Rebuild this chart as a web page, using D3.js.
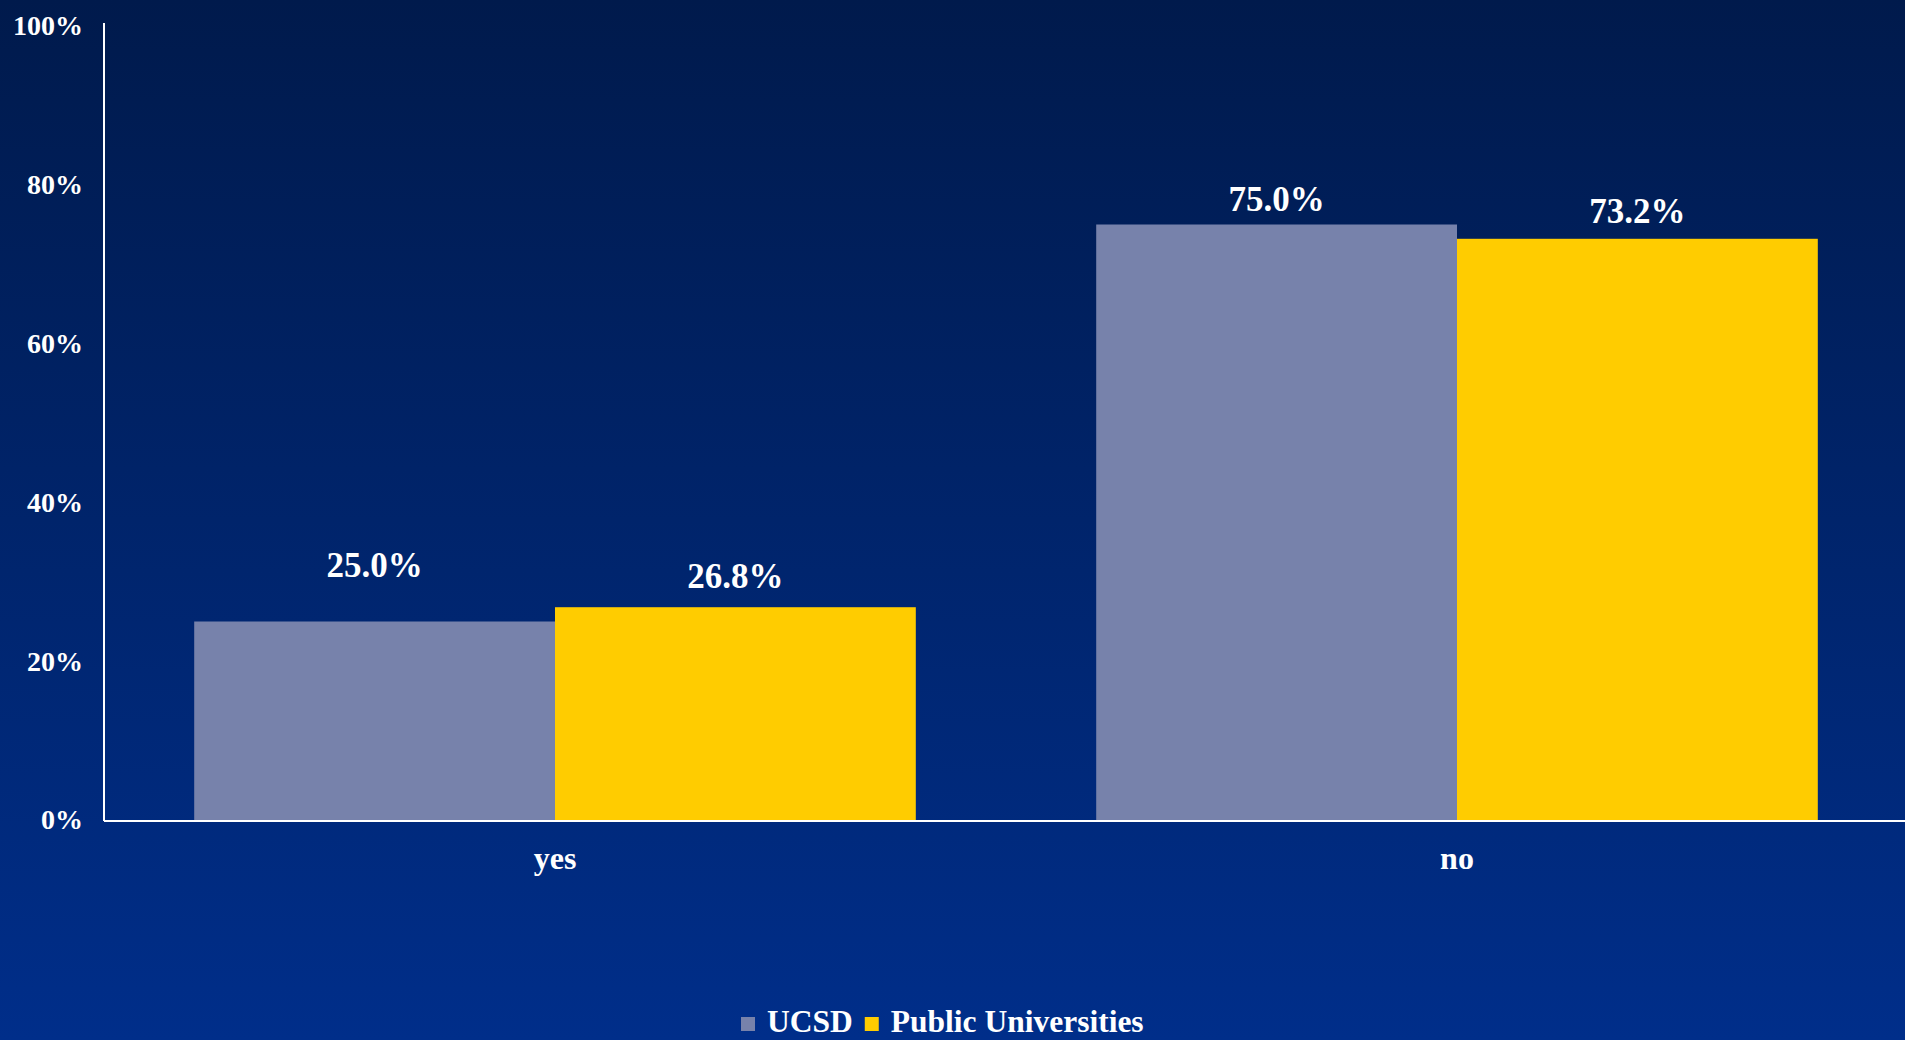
<!DOCTYPE html>
<html>
<head>
<meta charset="utf-8">
<script src="https://cdn.jsdelivr.net/npm/d3@7"></script>
<style>
  html, body { margin: 0; padding: 0; overflow: hidden; }
  svg { display: block; }
  text { font-family: "Liberation Serif", "Times New Roman", serif; font-weight: bold; fill: #ffffff; }
</style>
</head>
<body>
<script>
// ---- data ----
const categories = ["yes", "no"];
const seriesNames = ["UCSD", "Public Universities"];
const ucsdValues = [25.0, 75.0];
const publicValues = [26.8, 73.2];
const yTickValues = [0, 20, 40, 60, 80, 100];

// ---- layout ----
const W = 1905, H = 1040;
const plot = { left: 104, right: 1908, top: 26, bottom: 820 };
const colors = ["#7782ab", "#ffcc00"];
const labelLift = [[45, 19], [14, 16]]; // [category][series] gap between bar top and label baseline

const svg = d3.select("body").append("svg").attr("width", W).attr("height", H);

const defs = svg.append("defs");
const grad = defs.append("linearGradient").attr("id", "bg").attr("x1", 0).attr("y1", 0).attr("x2", 0).attr("y2", 1);
grad.append("stop").attr("offset", "0%").attr("stop-color", "#001a4c");
grad.append("stop").attr("offset", "100%").attr("stop-color", "#002e8a");
svg.append("rect").attr("width", W).attr("height", H).attr("fill", "url(#bg)");

const x0 = d3.scaleBand().domain(categories).range([plot.left, plot.right]).paddingInner(0.2).paddingOuter(0.1);
const x1 = d3.scaleBand().domain(seriesNames).range([0, x0.bandwidth()]).padding(0);
const y = d3.scaleLinear().domain([0, 100]).range([plot.bottom, plot.top]);

const rows = categories.map((c, i) => ({
  cat: c, ci: i,
  vals: [ucsdValues[i], publicValues[i]].map((v, si) => ({ name: seriesNames[si], v, si, ci: i }))
}));

const groups = svg.selectAll("g.grp").data(rows).join("g").attr("class", "grp")
  .attr("transform", d => `translate(${x0(d.cat)},0)`);

groups.selectAll("rect").data(d => d.vals).join("rect")
  .attr("x", d => x1(d.name))
  .attr("y", d => y(d.v))
  .attr("width", x1.bandwidth())
  .attr("height", d => y(0) - y(d.v))
  .attr("fill", d => colors[d.si]);

groups.selectAll("text.val").data(d => d.vals).join("text").attr("class", "val")
  .attr("x", d => x1(d.name) + x1.bandwidth() / 2)
  .attr("y", d => y(d.v) - labelLift[d.ci][d.si])
  .attr("text-anchor", "middle")
  .style("font-size", "35px")
  .text(d => d.v.toFixed(1) + "%");

// y axis
const yAxis = d3.axisLeft(y).tickValues(yTickValues).tickSize(0).tickPadding(21).tickFormat(d => d + "%");
const yg = svg.append("g").attr("transform", `translate(${plot.left},0)`).call(yAxis);
yg.select(".domain").attr("stroke", "#ffffff").attr("stroke-width", 2).attr("d", `M0,${plot.top - 3}V${plot.bottom + 1}`);
yg.selectAll(".tick text").style("font-size", "28px").attr("fill", "#ffffff").attr("font-family", null);

// x axis
const xAxis = d3.axisBottom(x0).tickSize(0).tickPadding(25);
const xg = svg.append("g").attr("transform", `translate(0,${plot.bottom + 1})`).call(xAxis);
xg.select(".domain").attr("stroke", "#ffffff").attr("stroke-width", 2).attr("d", `M${plot.left},0H${W}`);
xg.selectAll(".tick text").style("font-size", "32px").attr("fill", "#ffffff").attr("font-family", null);

// legend
const legend = svg.append("g").attr("transform", "translate(741,1032)");
let lx = 0;
seriesNames.forEach((name, i) => {
  legend.append("rect").attr("x", lx).attr("y", -15).attr("width", 14).attr("height", 14).attr("fill", colors[i]);
  const t = legend.append("text").attr("x", lx + 26).attr("y", 0).style("font-size", "31.5px").text(name);
  lx += 26 + t.node().getComputedTextLength() + 12;
});
</script>
</body>
</html>
